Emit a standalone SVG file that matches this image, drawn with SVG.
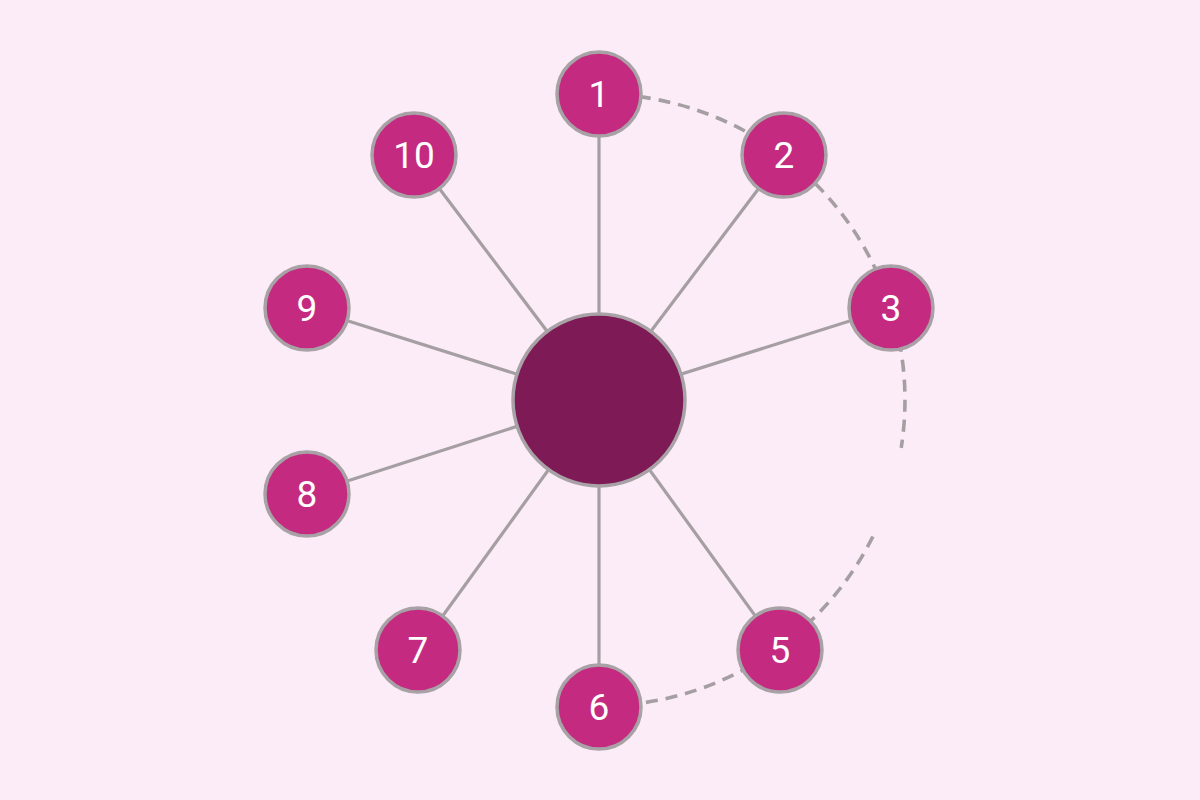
<svg xmlns="http://www.w3.org/2000/svg" width="1200" height="800" viewBox="0 0 1200 800">
  <style>
    .bg { fill: #fcecf7; }
    .spoke { stroke: #a59fa3; stroke-width: 3.2; fill: none; }
    .dash { stroke: #a59fa3; stroke-width: 3.6; fill: none; stroke-dasharray: 12 8; }
    .node circle { fill: #c42b80; stroke: #a8a2a6; stroke-width: 3.5; }
    .hub circle { fill: #7e1a55; stroke: #a8a2a6; stroke-width: 3.5; }
    .node text { fill: #ffffff; font-family: Roboto, "Liberation Sans", sans-serif; font-size: 37px; text-anchor: middle; }
  </style>
  <rect class="bg" x="0" y="0" width="1200" height="800"/>
  <g id="connectors">
    <line class="spoke" x1="599" y1="400" x2="599" y2="94"/>
    <line class="spoke" x1="599" y1="400" x2="784" y2="155"/>
    <line class="spoke" x1="599" y1="400" x2="891" y2="308"/>
    <line class="spoke" x1="599" y1="400" x2="780" y2="650"/>
    <line class="spoke" x1="599" y1="400" x2="599" y2="707"/>
    <line class="spoke" x1="599" y1="400" x2="418" y2="650"/>
    <line class="spoke" x1="599" y1="400" x2="307" y2="494"/>
    <line class="spoke" x1="599" y1="400" x2="307" y2="308"/>
    <line class="spoke" x1="599" y1="400" x2="414" y2="155"/>
    <path class="dash" d="M 599 94 A 306 306 0 0 1 901.2 447.9"/>
    <path class="dash" d="M 872.9 536.5 A 306 306 0 0 1 599 706"/>
  </g>
  <g id="hub" class="hub"><circle cx="599" cy="400" r="86"/></g>
  <g id="node1" class="node"><circle cx="599" cy="94" r="42"/><text x="599" y="107">1</text></g>
  <g id="node2" class="node"><circle cx="784" cy="155" r="42"/><text x="784" y="168">2</text></g>
  <g id="node3" class="node"><circle cx="891" cy="308" r="42"/><text x="891" y="321">3</text></g>
  <g id="node5" class="node"><circle cx="780" cy="650" r="42"/><text x="780" y="663">5</text></g>
  <g id="node6" class="node"><circle cx="599" cy="707" r="42"/><text x="599" y="720">6</text></g>
  <g id="node7" class="node"><circle cx="418" cy="650" r="42"/><text x="418" y="663">7</text></g>
  <g id="node8" class="node"><circle cx="307" cy="494" r="42"/><text x="307" y="507">8</text></g>
  <g id="node9" class="node"><circle cx="307" cy="308" r="42"/><text x="307" y="321">9</text></g>
  <g id="node10" class="node"><circle cx="414" cy="155" r="42"/><text x="414" y="168">10</text></g>
</svg>
